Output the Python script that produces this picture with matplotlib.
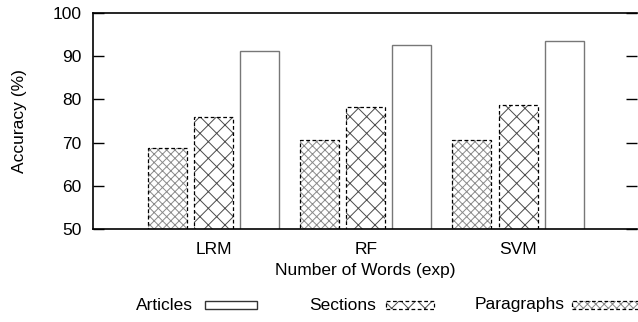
import matplotlib
matplotlib.use("Agg")
import matplotlib.pyplot as plt
import matplotlib.patches as mpatches
import numpy as np

plt.rcParams['font.family'] = ['Liberation Sans', 'DejaVu Sans']
plt.rcParams['hatch.linewidth'] = 0.7

categories = ["LRM", "RF", "SVM"]
paragraphs = [68.7, 70.5, 70.5]
sections = [75.9, 78.3, 78.6]
articles = [91.2, 92.6, 93.6]
yticks = [50, 60, 70, 80, 90, 100]

W, H = 638, 322
fig = plt.figure(figsize=(W / 100, H / 100), dpi=100)
ax = fig.add_axes([93 / W, 1 - 229 / H, (637 - 93) / W, (229 - 13) / H])

x = np.arange(len(categories))
bw = 0.256
off = 0.303
fs = 12.5
dash = (0, (3, 2))
par_hatch_col = '#8a8a8a'
sec_hatch_col = '#4a4a4a'

# Paragraphs: light hatch layer + dashed outline
ax.bar(x - off, paragraphs, bw, facecolor='white', edgecolor=par_hatch_col,
       hatch='xxxx', linewidth=0)
ax.bar(x - off, paragraphs, bw, fill=False, edgecolor='black',
       linestyle=dash, linewidth=0.9)
# Sections
ax.bar(x, sections, bw, facecolor='white', edgecolor=sec_hatch_col,
       hatch='xx', linewidth=0)
ax.bar(x, sections, bw, fill=False, edgecolor='black',
       linestyle=dash, linewidth=0.9)
# Articles
ax.bar(x + off, articles, bw, facecolor='white', edgecolor='#777777',
       linewidth=1.0)

ax.set_ylim(50, 100)
ax.set_xlim(-0.79, 2.78)
ax.set_yticks(yticks)
ax.set_xticks(x)
ax.set_xticklabels(categories, fontsize=fs)
ax.tick_params(axis='y', direction='in', length=8, width=1, labelsize=fs,
               right=True, pad=8.5)
ax.tick_params(axis='x', length=0, pad=9)
for s in ['left', 'bottom', 'top']:
    ax.spines[s].set_linewidth(1.2)
ax.spines['right'].set_visible(False)
ax.set_ylabel("Accuracy (%)", fontsize=fs, labelpad=18)
ax.set_xlabel("Number of Words (exp)", fontsize=fs, labelpad=5)

# legend drawn manually (gnuplot-style: text then sample)
ly = 1 - 305 / H
entries = [("Articles", 193, 205, 257, None, '#333333', '-'),
           ("Sections", 376, 386, 434, 'xx', sec_hatch_col, dash),
           ("Paragraphs", 565, 572, 640, 'xxxx', par_hatch_col, dash)]
for txt, tx, x0, x1, hatch, hc, ls in entries:
    fig.text(tx / W, ly, txt, ha='right', va='center', fontsize=fs)
    if hatch:
        fig.add_artist(mpatches.Rectangle((x0 / W, ly - 4 / H), (x1 - x0) / W, 8 / H,
                                          transform=fig.transFigure, facecolor='white',
                                          edgecolor=hc, hatch=hatch, linewidth=0))
        fig.add_artist(mpatches.Rectangle((x0 / W, ly - 4 / H), (x1 - x0) / W, 8 / H,
                                          transform=fig.transFigure, fill=False,
                                          edgecolor='black', linestyle=ls, linewidth=0.9))
    else:
        fig.add_artist(mpatches.Rectangle((x0 / W, ly - 4 / H), (x1 - x0) / W, 8 / H,
                                          transform=fig.transFigure, facecolor='white',
                                          edgecolor=hc, linewidth=1.0))

fig.savefig("out.png", dpi=100)
